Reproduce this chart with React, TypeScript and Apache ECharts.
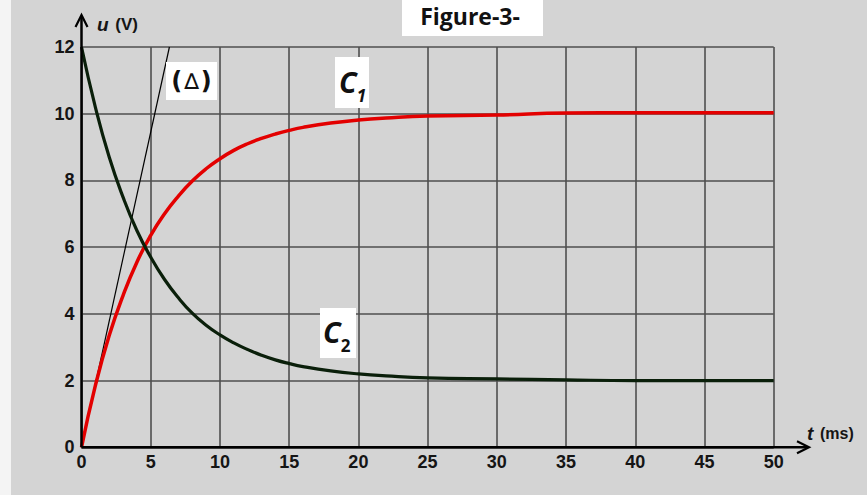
import React, { useEffect, useRef } from "react";
import * as echarts from "echarts";

// time (ms)
const tValues = [0, 1, 2, 3, 4, 5, 6, 7, 8, 9, 10, 11, 12, 13, 14, 15, 16, 18, 20, 22, 25, 30, 35, 40, 45, 50];
// C1 (V)
const c1Values = [0, 1.85, 3.35, 4.55, 5.55, 6.35, 7.0, 7.53, 7.98, 8.35, 8.65, 8.9, 9.1, 9.26, 9.39, 9.5, 9.59, 9.72, 9.81, 9.87, 9.93, 9.96, 10.02, 10.03, 10.03, 10.03];
// C2 (V)
const c2Values = [12, 10.2, 8.7, 7.5, 6.5, 5.7, 5.03, 4.48, 4.02, 3.66, 3.37, 3.13, 2.93, 2.76, 2.62, 2.51, 2.42, 2.29, 2.2, 2.14, 2.08, 2.05, 2.02, 2.0, 2.0, 2.0];
// tangent (Δ)
const tangentT = [0, 6.35];
const tangentU = [0, 12];

const xTicks = { min: 0, max: 50, interval: 5 };
const yTicks = { min: 0, max: 12, interval: 2 };

const tickFont = {
  fontFamily: "Liberation Sans",
  fontWeight: "bold" as const,
  fontSize: 18,
  color: "#151515",
};

export default function App() {
  const ref = useRef<HTMLDivElement>(null);
  useEffect(() => {
    if (!ref.current) return;
    const chart = echarts.init(ref.current, null, { renderer: "svg" });
    const GL = 81.5, GR = 773.7, GT = 47, GB = 447.3;
    chart.setOption({
      animation: false,
      backgroundColor: "#d4d4d4",
      grid: { left: GL, right: 867 - GR, top: GT, bottom: 495 - GB, containLabel: false },
      xAxis: {
        type: "value",
        min: xTicks.min,
        max: xTicks.max,
        interval: xTicks.interval,
        axisLine: { show: false },
        axisTick: { show: false },
        axisLabel: { ...tickFont, margin: 6 },
        splitLine: { show: true, lineStyle: { color: "#4f4f4f", width: 1.6 } },
      },
      yAxis: {
        type: "value",
        min: yTicks.min,
        max: yTicks.max,
        interval: yTicks.interval,
        axisLine: { show: false },
        axisTick: { show: false },
        axisLabel: { ...tickFont, margin: 7 },
        splitLine: { show: true, lineStyle: { color: "#4f4f4f", width: 1.6 } },
      },
      series: [
        {
          name: "Δ",
          type: "line",
          data: tangentT.map((t, i) => [t, tangentU[i]]),
          showSymbol: false,
          lineStyle: { color: "#000", width: 1.2 },
          z: 3,
        },
        {
          name: "C1",
          type: "line",
          data: tValues.map((t, i) => [t, c1Values[i]]),
          showSymbol: false,
          smooth: 0.5,
          lineStyle: { color: "#e30000", width: 3.5 },
          z: 4,
        },
        {
          name: "C2",
          type: "line",
          data: tValues.map((t, i) => [t, c2Values[i]]),
          showSymbol: false,
          smooth: 0.5,
          lineStyle: { color: "#0a1f0a", width: 3.2 },
          z: 5,
        },
      ],
      graphic: [
        { type: "rect", shape: { x: 0, y: 0, width: 11, height: 495 }, style: { fill: "#f4f4f4" }, z: 0 },
        // x axis with arrow
        { type: "line", shape: { x1: GL, y1: GB, x2: 808, y2: GB }, style: { stroke: "#000", lineWidth: 2.5 }, z: 10 },
        { type: "polyline", shape: { points: [[797, GB - 6], [809, GB], [797, GB + 6]] }, style: { stroke: "#000", lineWidth: 2.2, fill: "none" }, z: 10 },
        // y axis with arrow
        { type: "line", shape: { x1: GL, y1: GB, x2: GL, y2: 16 }, style: { stroke: "#000", lineWidth: 2.5 }, z: 10 },
        { type: "polyline", shape: { points: [[GL - 6, 27], [GL, 15], [GL + 6, 27]] }, style: { stroke: "#000", lineWidth: 2.2, fill: "none" }, z: 10 },
        // axis names
        {
          type: "text",
          x: 97,
          y: 24,
          style: {
            text: "{i|u}  {n|(V)}",
            verticalAlign: "middle",
            rich: {
              i: { fontFamily: "Liberation Sans", fontStyle: "italic", fontWeight: "bold", fontSize: 19, fill: "#151515" },
              n: { fontFamily: "Liberation Sans", fontWeight: "bold", fontSize: 17, fill: "#151515" },
            },
          },
          z: 10,
        },
        {
          type: "text",
          x: 807,
          y: 433,
          style: {
            text: "{i|t}  {n|(ms)}",
            verticalAlign: "middle",
            rich: {
              i: { fontFamily: "Liberation Sans", fontStyle: "italic", fontWeight: "bold", fontSize: 19, fill: "#151515" },
              n: { fontFamily: "Liberation Sans", fontWeight: "bold", fontSize: 16, fill: "#151515" },
            },
          },
          z: 10,
        },
        // title
        { type: "rect", shape: { x: 402, y: 0, width: 141, height: 36 }, style: { fill: "#fff" }, z: 10 },
        {
          type: "text",
          x: 470,
          y: 16,
          style: {
            text: "Figure-3-",
            align: "center",
            verticalAlign: "middle",
            fontFamily: "Open Sans",
            fontWeight: "bold",
            fontSize: 23,
            fill: "#111",
          },
          z: 11,
        },
        // (Δ) label
        { type: "rect", shape: { x: 166, y: 62, width: 51, height: 38 }, style: { fill: "#fff" }, z: 10 },
        {
          type: "text",
          x: 191.5,
          y: 81,
          style: {
            text: "{p|(}{d|∆}{p|)}",
            align: "center",
            verticalAlign: "middle",
            rich: {
              p: { fontFamily: "DejaVu Sans", fontWeight: "bold", fontSize: 24, fill: "#111" },
              d: { fontFamily: "DejaVu Sans", fontSize: 22, fill: "#111", padding: [0, 2, 0, 2] },
            },
          },
          z: 11,
        },
        // C1 label
        { type: "rect", shape: { x: 335, y: 57, width: 34, height: 51 }, style: { fill: "#fff" }, z: 10 },
        {
          type: "text",
          x: 339,
          y: 81,
          style: {
            text: "{c|C}{s|1}",
            verticalAlign: "middle",
            rich: {
              c: { fontFamily: "Open Sans", fontStyle: "italic", fontWeight: "bold", fontSize: 29, fill: "#111", lineHeight: 30 },
              s: { fontFamily: "Open Sans", fontStyle: "italic", fontWeight: "bold", fontSize: 17, fill: "#111", lineHeight: 30, verticalAlign: "bottom", padding: [0, 0, -8, 0] },
            },
          },
          z: 11,
        },
        // C2 label
        { type: "rect", shape: { x: 320, y: 308, width: 36, height: 50 }, style: { fill: "#fff" }, z: 10 },
        {
          type: "text",
          x: 323,
          y: 331,
          style: {
            text: "{c|C}{s|2}",
            verticalAlign: "middle",
            rich: {
              c: { fontFamily: "Open Sans", fontStyle: "italic", fontWeight: "bold", fontSize: 29, fill: "#111", lineHeight: 30 },
              s: { fontFamily: "Open Sans", fontWeight: "bold", fontSize: 17, fill: "#111", lineHeight: 30, verticalAlign: "bottom", padding: [0, 0, -8, 0] },
            },
          },
          z: 11,
        },
      ],
    });
    return () => chart.dispose();
  }, []);
  return (
    <div
      ref={ref}
      style={{ position: "absolute", left: 0, top: 0, width: 867, height: 495 }}
    />
  );
}
